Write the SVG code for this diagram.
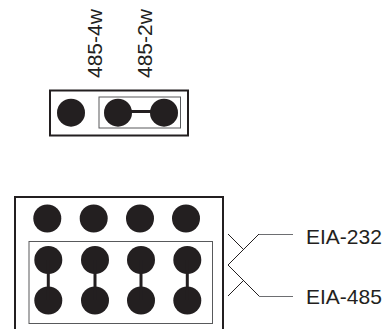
<svg xmlns="http://www.w3.org/2000/svg" width="387" height="329" viewBox="0 0 387 329">
<style>
.o{fill:none;stroke:#231f20;stroke-width:2}
.i{fill:none;stroke:#58595b;stroke-width:1}
.p{fill:#231f20}
.j{stroke:#231f20;stroke-width:3;fill:none}
.l{fill:none;stroke:#231f20;stroke-width:1}
.g{fill:none;stroke:#6d6e71;stroke-width:1}
text{font-family:"Liberation Sans",Arial,sans-serif;font-size:21px;fill:#231f20}
</style>
<rect width="387" height="329" fill="#fff"/>
<g id="jumper-top">
<rect class="o" x="50" y="90.500" width="138" height="45"/>
<rect class="i" x="99" y="97" width="81.500" height="31"/>
<circle class="p" cx="71" cy="112.700" r="14"/>
<circle class="p" cx="118" cy="112.700" r="14"/>
<circle class="p" cx="164" cy="112.700" r="14"/>
</g>
<g id="jumper-bottom">
<path class="o" d="M15 329V197H223V329"/>
<rect class="i" x="29" y="241.500" width="183.500" height="82"/>
<circle class="p" cx="47.300" cy="218.500" r="14"/>
<circle class="p" cx="93.700" cy="218.500" r="14"/>
<circle class="p" cx="140" cy="218.500" r="14"/>
<circle class="p" cx="186" cy="218.500" r="14"/>
<circle class="p" cx="48.300" cy="260" r="14"/>
<circle class="p" cx="95" cy="260" r="14"/>
<circle class="p" cx="141" cy="260" r="14"/>
<circle class="p" cx="187.300" cy="260" r="14"/>
<circle class="p" cx="48.300" cy="300.500" r="14"/>
<circle class="p" cx="95" cy="300.500" r="14"/>
<circle class="p" cx="141" cy="300.500" r="14"/>
<circle class="p" cx="187.300" cy="300.500" r="14"/>
</g>
<g id="connectors">
<path class="j" d="M118 111.500H164M48.300 260V300M95 260V300M141 260V300M187.300 260V300"/>
<path class="l" d="M228 234L244 250M228 296L244 280M228 265L259 234M228 265L259 296"/>
<path class="g" d="M259 234.500H293M259 296.500H293"/>
</g>
<g id="labels">
<text x="306" y="243.500">EIA-232</text>
<text x="306" y="304">EIA-485</text>
<text transform="translate(101.500 78) rotate(-90)">485-4w</text>
<text transform="translate(151.500 78) rotate(-90)">485-2w</text>
</g>
</svg>
